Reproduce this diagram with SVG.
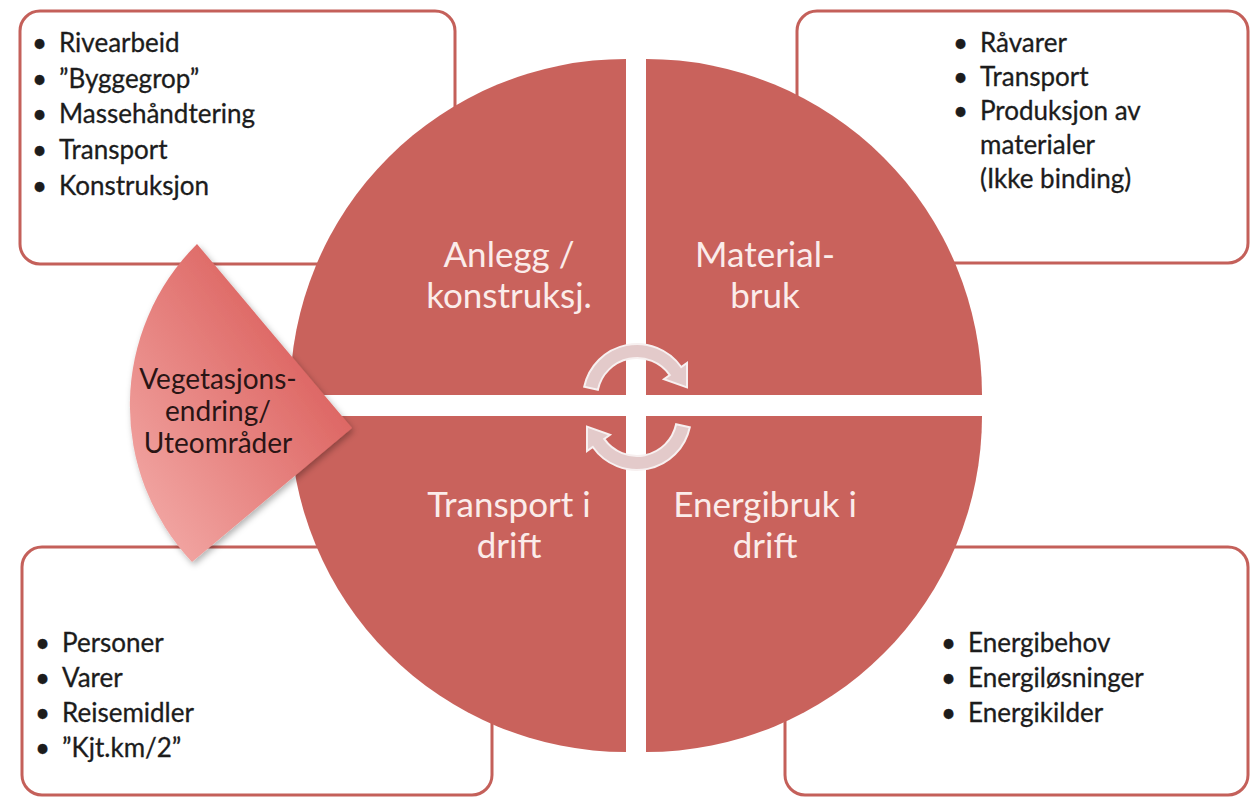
<svg xmlns="http://www.w3.org/2000/svg" width="1250" height="800" viewBox="0 0 1250 800">
<defs>
<style>
.box{fill:#ffffff;stroke:#c4605a;stroke-width:3}
.quad{fill:#c9625c}
.qt{font-family:Lato,"Open Sans",sans-serif;font-size:35px;fill:#fbecea;text-anchor:middle}
.bt{font-family:Lato,"Open Sans",sans-serif;font-size:26px;fill:#1c1c1c;stroke:#1c1c1c;stroke-width:0.3}
.wt{font-family:Lato,"Open Sans",sans-serif;font-size:28px;fill:#2a1515;text-anchor:middle}
.arr{fill:#e3caca;stroke:#f7f0f0;stroke-width:2}
</style>
<linearGradient id="wg" x1="1" y1="0" x2="0" y2="1">
<stop offset="0" stop-color="#d44a47"/>
<stop offset="1" stop-color="#f5b0ad"/>
</linearGradient>
<filter id="sh" x="-20%" y="-20%" width="140%" height="140%">
<feDropShadow dx="2" dy="3" stdDeviation="3" flood-color="#000" flood-opacity="0.3"/>
</filter>
</defs>
<rect width="1250" height="800" fill="#ffffff"/>

<g id="box-anlegg">
<rect class="box" x="20" y="11" width="435" height="253" rx="20"/>
<text class="bt" x="32" y="52">•</text><text class="bt" x="59" y="52">Rivearbeid</text>
<text class="bt" x="32" y="88">•</text><text class="bt" x="59" y="88">”Byggegrop”</text>
<text class="bt" x="32" y="123">•</text><text class="bt" x="59" y="123">Massehåndtering</text>
<text class="bt" x="32" y="159">•</text><text class="bt" x="59" y="159">Transport</text>
<text class="bt" x="32" y="195">•</text><text class="bt" x="59" y="195">Konstruksjon</text>
</g>
<g id="box-material">
<rect class="box" x="797" y="11" width="451" height="252" rx="20"/>
<text class="bt" x="953" y="52">•</text><text class="bt" x="980" y="52">Råvarer</text>
<text class="bt" x="953" y="86">•</text><text class="bt" x="980" y="86">Transport</text>
<text class="bt" x="953" y="120">•</text><text class="bt" x="980" y="120">Produksjon av</text>
<text class="bt" x="980" y="154">materialer</text>
<text class="bt" x="980" y="188">(Ikke binding)</text>
</g>
<g id="box-transport">
<rect class="box" x="22" y="547" width="470" height="248" rx="20"/>
<text class="bt" x="35" y="652">•</text><text class="bt" x="62" y="652">Personer</text>
<text class="bt" x="35" y="687">•</text><text class="bt" x="62" y="687">Varer</text>
<text class="bt" x="35" y="722">•</text><text class="bt" x="62" y="722">Reisemidler</text>
<text class="bt" x="35" y="757">•</text><text class="bt" x="62" y="757">”Kjt.km/2”</text>
</g>
<g id="box-energi">
<rect class="box" x="785" y="547" width="463" height="248" rx="20"/>
<text class="bt" x="941" y="652">•</text><text class="bt" x="968" y="652">Energibehov</text>
<text class="bt" x="941" y="687">•</text><text class="bt" x="968" y="687">Energiløsninger</text>
<text class="bt" x="941" y="722">•</text><text class="bt" x="968" y="722">Energikilder</text>
</g>

<g id="q-anlegg">
<path class="quad" d="M626,395 L290,395 A336,336 0 0,1 626,59 Z"/>
<text class="qt" x="509" y="267">Anlegg /</text>
<text class="qt" x="509" y="308">konstruksj.</text>
</g>
<g id="q-material">
<path class="quad" d="M646,395 L646,59 A336,336 0 0,1 982,395 Z"/>
<text class="qt" x="765" y="267">Material-</text>
<text class="qt" x="765" y="308">bruk</text>
</g>
<g id="q-energi">
<path class="quad" d="M646,416 L982,416 A336,336 0 0,1 646,752 Z"/>
<text class="qt" x="765" y="517">Energibruk i</text>
<text class="qt" x="765" y="558">drift</text>
</g>
<g id="q-transport">
<path class="quad" d="M626,416 L626,752 A336,336 0 0,1 290,416 Z"/>
<text class="qt" x="509" y="517">Transport i</text>
<text class="qt" x="509" y="558">drift</text>
</g>

<g id="wedge-vegetasjon">
<path d="M352,428 L197,244 A228,228 0 0,0 192,562 Z" fill="url(#wg)" filter="url(#sh)"/>
<text class="wt" x="218" y="389">Vegetasjons-</text>
<text class="wt" x="218" y="421">endring/</text>
<text class="wt" x="218" y="453">Uteområder</text>
</g>

<g id="connectors">
<path class="arr" d="M584.2,386.8 A54,54 0 0,1 681.2,367 L687,363 L687,387.4 L664,379.1 L669.8,375.1 A40,40 0 0,0 597.9,389.7 Z"/>
<path class="arr" transform="rotate(180 637 407)" d="M584.2,386.8 A54,54 0 0,1 681.2,367 L687,363 L687,387.4 L664,379.1 L669.8,375.1 A40,40 0 0,0 597.9,389.7 Z"/>
</g>
</svg>
